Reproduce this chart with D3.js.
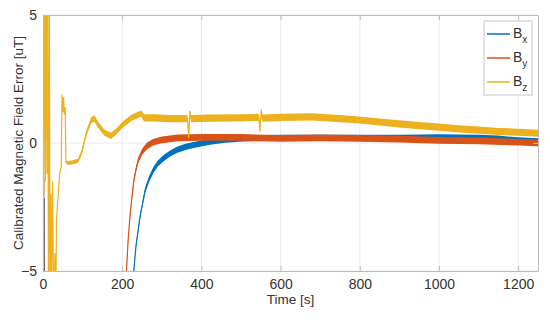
<!DOCTYPE html>
<html>
<head>
<meta charset="utf-8">
<script src="https://cdn.jsdelivr.net/npm/d3@7"></script>
<style>
  body { margin: 0; background: #fff; }
  text { font-family: "Liberation Sans", Arial, sans-serif; fill: #333; }
</style>
</head>
<body>
<div id="chart"></div>
<script>
// [time s, error uT, noise half-width uT]; -20 means off scale
const bxPoints = [
  [0, -20, 0.02], [3, -2.15, 0.02], [6, -20, 0.02], [225, -20, 0.02],
  [228, -5.2, 0.05], [235, -4.0, 0.06], [245, -2.88, 0.08], [258, -1.84, 0.1],
  [268, -1.4, 0.11], [279, -1.05, 0.12], [290, -0.8, 0.12], [304, -0.6, 0.12],
  [320, -0.42, 0.12], [338, -0.27, 0.12], [360, -0.15, 0.12], [380, -0.08, 0.12],
  [422, 0.05, 0.12], [460, 0.13, 0.12], [505, 0.18, 0.12], [600, 0.2, 0.12],
  [700, 0.2, 0.12], [800, 0.2, 0.12], [900, 0.2, 0.12], [1000, 0.22, 0.12],
  [1100, 0.2, 0.12], [1150, 0.17, 0.12], [1200, 0.1, 0.12], [1250, 0.07, 0.12]
];
const byPoints = [
  [0, -20, 0.02], [2, -1.37, 0.02], [5, -20, 0.02], [205, -20, 0.02],
  [210, -5.2, 0.04], [215, -3.8, 0.05], [220, -2.8, 0.06], [224, -2.2, 0.07],
  [230, -1.4, 0.09], [236, -0.95, 0.1], [241, -0.66, 0.11], [250, -0.35, 0.12],
  [262, -0.12, 0.13], [278, 0.03, 0.13], [300, 0.12, 0.13], [340, 0.2, 0.13],
  [400, 0.22, 0.13], [500, 0.22, 0.13], [600, 0.18, 0.13], [700, 0.2, 0.13],
  [800, 0.18, 0.13], [900, 0.15, 0.13], [1000, 0.1, 0.13], [1100, 0.08, 0.13],
  [1200, 0.03, 0.13], [1250, 0.0, 0.13]
];
const bzPoints = [
  [0, 8, 0.02], [2, -2, 0.02], [4, 8, 0.02], [6, -1.5, 0.02], [8, 8, 0.02],
  [10, -1.2, 0.02], [12, 6, 0.02], [14, -7, 0.02], [16, 5.5, 0.02], [18, -7, 0.02],
  [20, -2, 0.02], [22, -6, 0.02], [24, -1.5, 0.02], [26, -4.5, 0.02], [28, -7, 0.02],
  [30, -4.3, 0.02], [32, -7, 0.02], [34, -3.0, 0.02], [42, -1.2, 0.03], [46, -0.95, 0.03],
  [48, 1.9, 0.03], [50, 1.2, 0.03], [52, 1.8, 0.03], [54, 1.1, 0.03], [56, 1.4, 0.03],
  [58, -0.75, 0.05], [65, -0.78, 0.08], [75, -0.75, 0.08], [88, -0.7, 0.08],
  [97, -0.4, 0.1], [110, 0.4, 0.12], [122, 0.9, 0.12], [130, 0.95, 0.12],
  [140, 0.7, 0.12], [155, 0.4, 0.12], [172, 0.28, 0.12], [185, 0.45, 0.12],
  [200, 0.7, 0.12], [223, 0.98, 0.12], [240, 1.1, 0.12], [248, 1.15, 0.12],
  [255, 0.98, 0.14], [280, 0.98, 0.14], [320, 0.95, 0.14], [365, 0.95, 0.14],
  [368, 0.2, 0.05], [371, 1.25, 0.05], [374, 0.95, 0.14], [420, 0.97, 0.14],
  [500, 0.98, 0.14], [545, 1.0, 0.14], [548, 0.45, 0.05], [551, 1.3, 0.05],
  [554, 0.97, 0.14], [600, 1.0, 0.14], [680, 1.02, 0.14], [750, 0.95, 0.14],
  [800, 0.9, 0.14], [850, 0.82, 0.14], [900, 0.75, 0.14], [950, 0.68, 0.14],
  [1000, 0.62, 0.14], [1050, 0.55, 0.14], [1100, 0.5, 0.14], [1150, 0.45, 0.14],
  [1200, 0.42, 0.14], [1250, 0.38, 0.14]
];

const seriesNames = ['x', 'y', 'z'];
const seriesColors = ['#0072BD', '#D95319', '#EDB120'];
const xTicks = [0, 200, 400, 600, 800, 1000, 1200];
const yTicks = [-5, 0, 5];

const width = 550, height = 320;
const margin = {top: 15, right: 12, bottom: 49, left: 43};
const w = width - margin.left - margin.right;
const h = height - margin.top - margin.bottom;

const svg = d3.select('#chart').append('svg')
    .attr('width', width)
    .attr('height', height);

const g = svg.append('g')
    .attr('transform', 'translate(' + margin.left + ',' + margin.top + ')');

const x = d3.scaleLinear().domain([0, 1250]).range([0, w]);
const y = d3.scaleLinear().domain([-5, 5]).range([h, 0]);

// grid
g.append('g').selectAll('line')
    .data(xTicks)
    .join('line')
    .attr('x1', d => x(d)).attr('x2', d => x(d))
    .attr('y1', 0).attr('y2', h)
    .attr('stroke', '#ebebeb');
g.append('g').selectAll('line')
    .data(yTicks)
    .join('line')
    .attr('x1', 0).attr('x2', w)
    .attr('y1', d => y(d)).attr('y2', d => y(d))
    .attr('stroke', '#ebebeb');

svg.append('clipPath').attr('id', 'plotClip')
    .append('rect').attr('width', w).attr('height', h);

const plot = g.append('g').attr('clip-path', 'url(#plotClip)');

const area = d3.area()
    .x(d => x(d[0]))
    .y0(d => y(d[1] - d[2]))
    .y1(d => y(d[1] + d[2]));
const line = d3.line()
    .x(d => x(d[0]))
    .y(d => y(d[1]));

[bxPoints, byPoints, bzPoints].forEach((pts, i) => {
    plot.append('path')
        .attr('d', area(pts))
        .attr('fill', seriesColors[i]);
    plot.append('path')
        .attr('d', line(pts))
        .attr('fill', 'none')
        .attr('stroke', seriesColors[i])
        .attr('stroke-width', 1.2);
});

// axes (MATLAB style, ticks pointing inward)
const axisColor = '#bcbcbc';
g.append('g')
    .attr('transform', 'translate(0,' + h + ')')
    .call(d3.axisBottom(x).tickValues(xTicks).tickFormat(d3.format('d'))
        .tickSizeInner(-5).tickSizeOuter(0).tickPadding(8));
g.append('g')
    .call(d3.axisLeft(y).tickValues(yTicks).tickSizeInner(-5).tickSizeOuter(0).tickPadding(6));
g.append('g')
    .call(d3.axisTop(x).tickValues(xTicks).tickSizeInner(-5).tickSizeOuter(0).tickFormat(''));
g.append('g')
    .attr('transform', 'translate(' + w + ',0)')
    .call(d3.axisRight(y).tickValues(yTicks).tickSizeInner(-5).tickSizeOuter(0).tickFormat(''));

g.selectAll('.domain').attr('stroke', axisColor);
g.selectAll('.tick line').attr('stroke', axisColor);
g.selectAll('.tick text')
    .style('font-size', '14px')
    .style('font-family', '"Liberation Sans", Arial, sans-serif')
    .attr('fill', '#333');

svg.append('text')
    .attr('x', margin.left + w / 2)
    .attr('y', 304)
    .attr('text-anchor', 'middle')
    .style('font-size', '13.5px')
    .text('Time [s]');

svg.append('text')
    .attr('transform', 'translate(23,' + (margin.top + h / 2) + ')rotate(-90)')
    .attr('text-anchor', 'middle')
    .style('font-size', '13.5px')
    .text('Calibrated Magnetic Field Error [uT]');

// legend
const legend = svg.append('g').attr('transform', 'translate(484,21)');
legend.append('rect')
    .attr('width', 48).attr('height', 74)
    .attr('fill', '#fff')
    .attr('stroke', '#c8c8c8');
seriesNames.forEach((name, i) => {
    const ly = 13 + i * 24;
    legend.append('line')
        .attr('x1', 3).attr('x2', 26)
        .attr('y1', ly).attr('y2', ly)
        .attr('stroke', seriesColors[i])
        .attr('stroke-width', 1.5);
    const t = legend.append('text')
        .attr('x', 29).attr('y', ly + 4)
        .style('font-size', '14px')
        .text('B');
    t.append('tspan')
        .attr('dy', 5)
        .style('font-size', '10px')
        .text(name);
});
</script>
</body>
</html>
